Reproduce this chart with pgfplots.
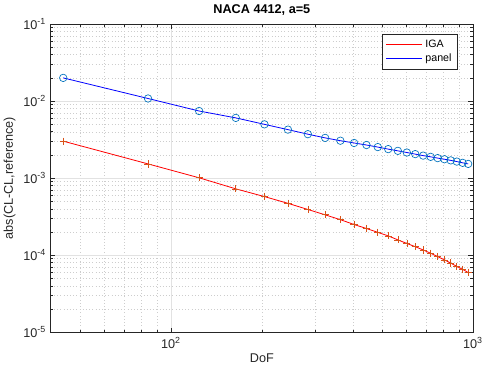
\documentclass[border=0pt]{standalone}
\usepackage{fontspec}
\setmainfont{Liberation Sans}
\usepackage{pgfplots}
\usepackage{pgfplotstable}
\pgfplotsset{compat=1.18}
\definecolor{mblue}{RGB}{0,114,189}
\definecolor{morange}{RGB}{217,83,25}
\definecolor{pblue}{RGB}{0,0,255}
\definecolor{pred}{RGB}{255,0,0}
\definecolor{axgray}{RGB}{38,38,38}
\definecolor{gridgray}{RGB}{226,226,226}
\definecolor{minorgray}{RGB}{205,205,205}

\pgfplotstableread{
x y
44 0.00302
84 0.00153
124 0.00101
164 0.000726
204 0.000576
244 0.000471
284 0.000392
324 0.000334
364 0.000289
404 0.000250
444 0.000222
484 0.000198
524 0.000178
564 0.000158
604 0.000142
644 0.000129
684 0.000117
724 0.000106
764 0.0000960
804 0.0000870
844 0.0000790
884 0.0000715
924 0.0000655
964 0.0000596
}\iga

\pgfplotstableread{
x y
44 0.0200
84 0.0108
124 0.00743
164 0.00605
204 0.00499
244 0.00426
284 0.00372
324 0.00333
364 0.00306
404 0.00286
444 0.00269
484 0.00253
524 0.00238
564 0.00226
604 0.00215
644 0.00205
684 0.00196
724 0.00189
764 0.00182
804 0.00176
844 0.00170
884 0.00164
924 0.00158
964 0.00153
}\panel

\begin{document}
\begin{tikzpicture}
\begin{axis}[
  xmode=log, ymode=log,
  scale only axis, width=316.5pt, height=231pt,
  xmin=40, xmax=1000, ymin=1e-5, ymax=1e-1,
  xtick={100,1000},
  xticklabels={10\textsuperscript{2},10\textsuperscript{3}},
  ytick={1e-5,1e-4,1e-3,1e-2,1e-1},
  yticklabels={10\textsuperscript{-5},10\textsuperscript{-4},10\textsuperscript{-3},10\textsuperscript{-2},10\textsuperscript{-1}},
  minor xtick={40,50,60,70,80,90,200,300,400,500,600,700,800,900},
  minor ytick={2e-5,3e-5,4e-5,5e-5,6e-5,7e-5,8e-5,9e-5,
               2e-4,3e-4,4e-4,5e-4,6e-4,7e-4,8e-4,9e-4,
               2e-3,3e-3,4e-3,5e-3,6e-3,7e-3,8e-3,9e-3,
               2e-2,3e-2,4e-2,5e-2,6e-2,7e-2,8e-2,9e-2},
  tick align=inside, tick pos=both,
  major tick length=3.5pt, minor tick length=2pt,
  every tick/.style={axgray, line width=0.4pt},
  axis line style={axgray, line width=0.5pt},
  grid=both,
  major grid style={solid, gridgray, line width=0.4pt},
  minor grid style={dotted, minorgray, line width=0.35pt},
  ticklabel style={font=\fontsize{9.5}{11}\selectfont, text=axgray},
  xlabel={DoF}, ylabel={abs(CL-CL,reference)},
  label style={font=\fontsize{9.5}{11}\selectfont, text=axgray},
  xlabel style={yshift=3pt},
  ylabel style={yshift=-1pt},
  title={\textbf{NACA 4412, a=5}},
  title style={font=\fontsize{9.5}{11}\selectfont, yshift=-3pt},
  legend style={at={(rel axis cs:0.964,0.968)}, anchor=north east,
    draw=axgray, fill=white, font=\fontsize{8}{9}\selectfont,
    row sep=-1pt, inner sep=2.5pt, line width=0.4pt},
  legend cell align=left,
  legend image code/.code={\draw[mark repeat=2,mark phase=2,#1] plot coordinates {(0pt,0pt) (13.5pt,0pt) (27pt,0pt)};},
]
\addplot[color=pred, line width=0.6pt] table[x=x,y=y]{\iga};
\addplot[color=pblue, line width=0.6pt] table[x=x,y=y]{\panel};
\addplot[forget plot, only marks, mark=+, mark size=2.7pt, morange, mark options={line width=0.5pt}] table[x=x,y=y]{\iga};
\addplot[forget plot, only marks, mark=o, mark size=2.8pt, mblue, mark options={line width=0.5pt}] table[x=x,y=y]{\panel};
\legend{IGA, panel}
\end{axis}
\pgfresetboundingbox
\path[use as bounding box] ([shift={(-38pt,-29pt)}]current axis.south west) rectangle ([shift={(7.5pt,18pt)}]current axis.north east);
\end{tikzpicture}
\end{document}
